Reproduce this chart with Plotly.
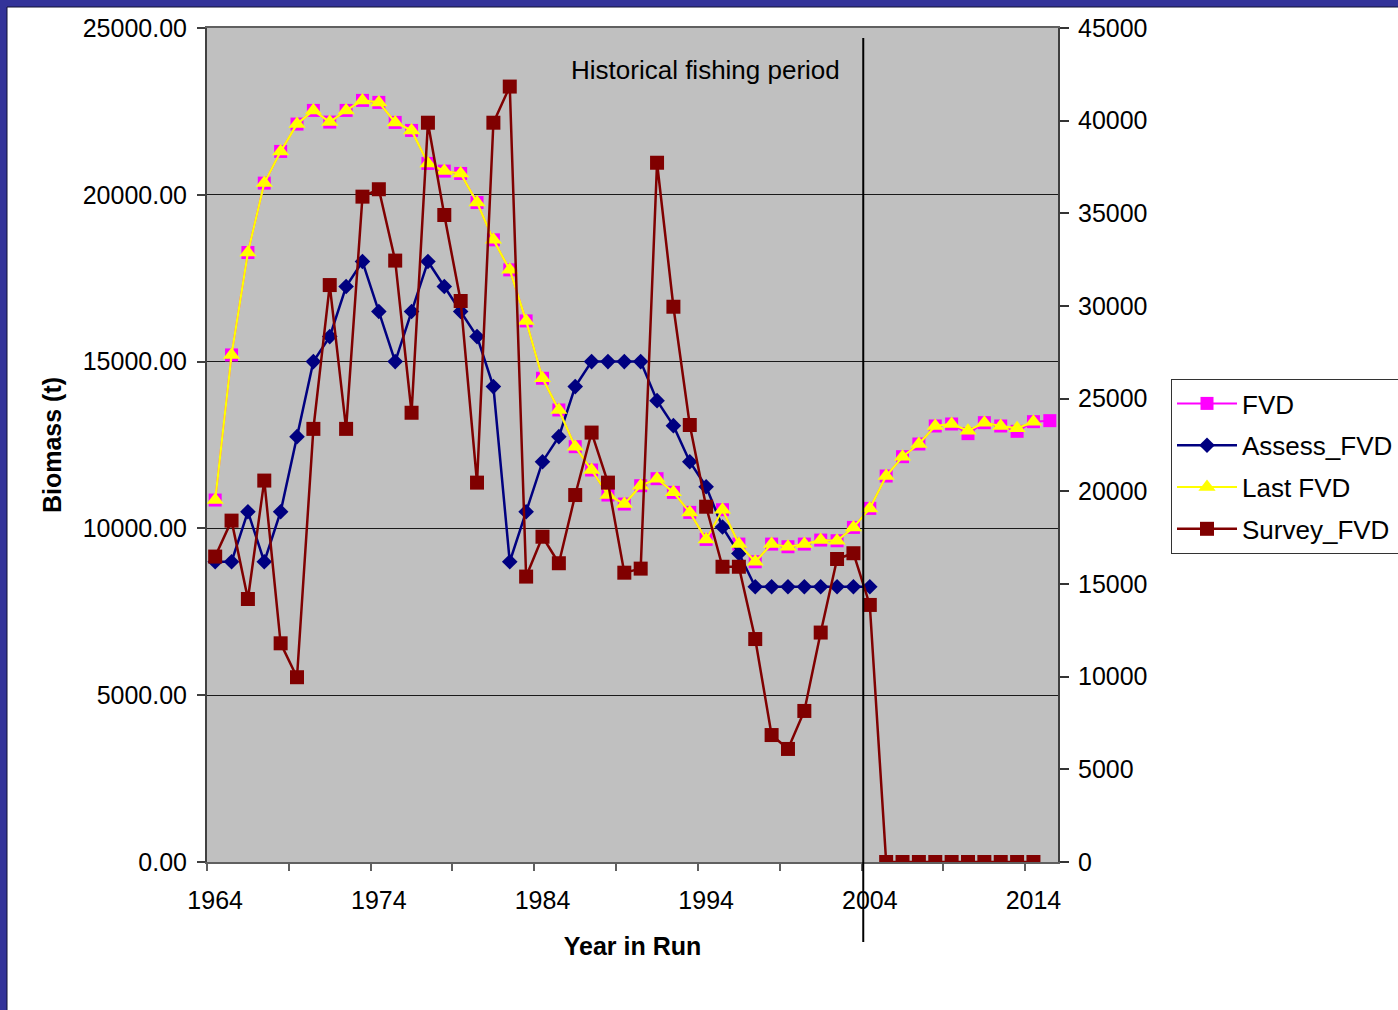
import plotly.graph_objects as go

# ---- data -------------------------------------------------------------
years = list(range(1964, 2016))

fvd = [10850, 15200, 18270, 20350, 21300, 22120, 22530, 22180, 22530, 22830,
       22770, 22170, 21930, 20940, 20710, 20640, 19770, 18650, 17750, 16220,
       14500, 13550, 12450, 11750, 11000, 10730, 11280, 11490, 11080, 10480,
       9670, 10560, 9530, 9000, 9530, 9450, 9530, 9650, 9630, 10030,
       10600, 11570, 12150, 12530, 13070, 13130, 12840, 13170, 13070, 12910,
       13200, 13230]

last_fvd = [10850, 15200, 18270, 20350, 21300, 22120, 22530, 22180, 22530, 22830,
            22770, 22170, 21930, 20940, 20710, 20640, 19770, 18650, 17750, 16220,
            14500, 13550, 12450, 11750, 11000, 10730, 11280, 11490, 11080, 10480,
            9670, 10560, 9530, 9000, 9530, 9450, 9530, 9650, 9630, 10030,
            10600, 11570, 12150, 12530, 13070, 13130, 12930, 13170, 13070, 13000,
            13200, None]

assess_fvd = [9000, 9000, 10500, 9000, 10500, 12750, 15000, 15750, 17250, 18000,
              16500, 15000, 16500, 18000, 17250, 16500, 15750, 14250, 9000, 10500,
              12000, 12750, 14250, 15000, 15000, 15000, 15000, 13830, 13080, 12000,
              11250, 10040, 9250, 8250, 8250, 8250, 8250, 8250, 8250, 8250,
              8250]

survey_fvd = [16480, 18420, 14190, 20580, 11800, 9970, 23370, 31130, 23370, 35900,
              36300, 32450, 24240, 39890, 34910, 30270, 20470, 39890, 41840, 15400,
              17550, 16120, 19800, 23170, 20470, 15610, 15830, 37730, 29960, 23580,
              19170, 15930, 15930, 12030, 6850, 6100, 8150, 12380, 16350, 16660,
              13870, 0, 0, 0, 0, 0, 0, 0, 0, 0,
              0]

year_labels = [1964, 1974, 1984, 1994, 2004, 2014]
left_ticks = [0, 5000, 10000, 15000, 20000, 25000]
right_ticks = list(range(0, 45001, 5000))
period_end = 2003.6
period_label = "Historical fishing period"

# ---- styling ----------------------------------------------------------
FONT = "Liberation Sans, Arial, sans-serif"
FS = 25
W, H = 1398, 1010
L, R, T, B = 207, 1058, 28, 862  # plot area in pixels


def px_x(p):
    return (p - L) / (R - L)


def px_y(p):
    return (B - p) / (B - T)


fig = go.Figure()

fig.add_trace(go.Scatter(
    x=years, y=fvd, name="FVD", mode="lines+markers",
    line=dict(color="#FF00FF", width=2),
    marker=dict(symbol="square", size=13, color="#FF00FF"),
    legendgroup="a"))

fig.add_trace(go.Scatter(
    x=years[:len(assess_fvd)], y=assess_fvd, name="Assess_FVD",
    mode="lines+markers",
    line=dict(color="#000080", width=2.5),
    marker=dict(symbol="diamond", size=12, color="#000080"),
    legendgroup="b"))

fig.add_trace(go.Scatter(
    x=years, y=last_fvd, name="Last FVD", mode="lines+markers",
    line=dict(color="#FFFF00", width=2.2),
    marker=dict(symbol="triangle-up", size=15, color="#FFFF00"),
    legendgroup="c"))

fig.add_trace(go.Scatter(
    x=years[:len(survey_fvd)], y=survey_fvd, name="Survey_FVD",
    mode="lines+markers", yaxis="y2",
    line=dict(color="#800000", width=2.5),
    marker=dict(symbol="square", size=14, color="#800000"),
    legendgroup="d"))

fig.update_layout(
    width=W, height=H,
    margin=dict(l=L, r=W - R, t=T, b=H - B, pad=0, autoexpand=False),
    paper_bgcolor="white",
    plot_bgcolor="#C0C0C0",
    font=dict(family=FONT, size=FS, color="black"),
    showlegend=True,
    legend=dict(
        x=px_x(1171), y=px_y(379), xanchor="left", yanchor="top",
        bgcolor="white", bordercolor="#333333", borderwidth=1,
        font=dict(size=26), tracegroupgap=5, traceorder="grouped",
        itemwidth=60),
    xaxis=dict(
        range=[1963.5, 2015.5], tickmode="array", tickvals=year_labels,
        ticks="", showgrid=False, zeroline=False,
        showline=True, linecolor="#606060", linewidth=2, mirror=True,
        ticklabelstandoff=15,
        minor=dict(tickmode="array",
                   tickvals=[1963.5 + 5 * k for k in range(11)],
                   ticks="outside", ticklen=7, tickcolor="#606060",
                   tickwidth=2, showgrid=False),
        title=dict(text="<b>Year in Run</b>", font=dict(size=FS), standoff=24),
    ),
    yaxis=dict(
        range=[0, 25000], tickmode="array", tickvals=left_ticks,
        tickformat=".2f", ticks="outside", ticklen=8, tickcolor="#404040",
        tickwidth=2, showgrid=True, gridcolor="#1a1a1a", gridwidth=1,
        zeroline=False, showline=True, linecolor="#404040", linewidth=2,
        ticklabelstandoff=5,
        title=dict(text="<b>Biomass (t)</b>", font=dict(size=FS), standoff=14),
    ),
    yaxis2=dict(
        range=[0, 45000], tickmode="array", tickvals=right_ticks,
        tickformat="d", overlaying="y", side="right", anchor="x",
        ticks="outside", ticklen=9, tickcolor="#333333", tickwidth=1.5,
        showgrid=False, zeroline=False, showline=True,
        linecolor="#404040", linewidth=2, ticklabelstandoff=4,
    ),
    yaxis3=dict(
        range=[0, 45000], tickmode="array", tickvals=right_ticks,
        overlaying="y", side="right", anchor="x",
        ticks="inside", ticklen=8, tickcolor="#333333", tickwidth=1.5,
        showticklabels=False, showgrid=False, zeroline=False, showline=False,
    ),
)

# marker for the end of the historical fishing period
fig.add_shape(type="line", xref="x", yref="paper",
              x0=period_end, x1=period_end, y0=px_y(942), y1=px_y(38),
              line=dict(color="black", width=2), layer="above")

fig.add_annotation(text=period_label, xref="x", yref="paper",
                   x=2002.3, y=px_y(70), xanchor="right", yanchor="middle",
                   showarrow=False, font=dict(size=26, color="black"))

# slide frame along the top and left edges
FRAME = "#333399"
fig.add_shape(type="rect", xref="paper", yref="paper",
              x0=px_x(0), x1=px_x(7), y0=px_y(H), y1=px_y(0),
              fillcolor=FRAME, line=dict(width=0), layer="above")
fig.add_shape(type="rect", xref="paper", yref="paper",
              x0=px_x(0), x1=px_x(W), y0=px_y(7), y1=px_y(0),
              fillcolor=FRAME, line=dict(width=0), layer="above")
fig.add_shape(type="line", xref="paper", yref="paper",
              x0=px_x(7), x1=px_x(W), y0=px_y(7), y1=px_y(7),
              line=dict(color="#111133", width=1), layer="above")
fig.add_shape(type="line", xref="paper", yref="paper",
              x0=px_x(7), x1=px_x(7), y0=px_y(H), y1=px_y(7),
              line=dict(color="#111133", width=1), layer="above")

fig.write_html("out.html")
